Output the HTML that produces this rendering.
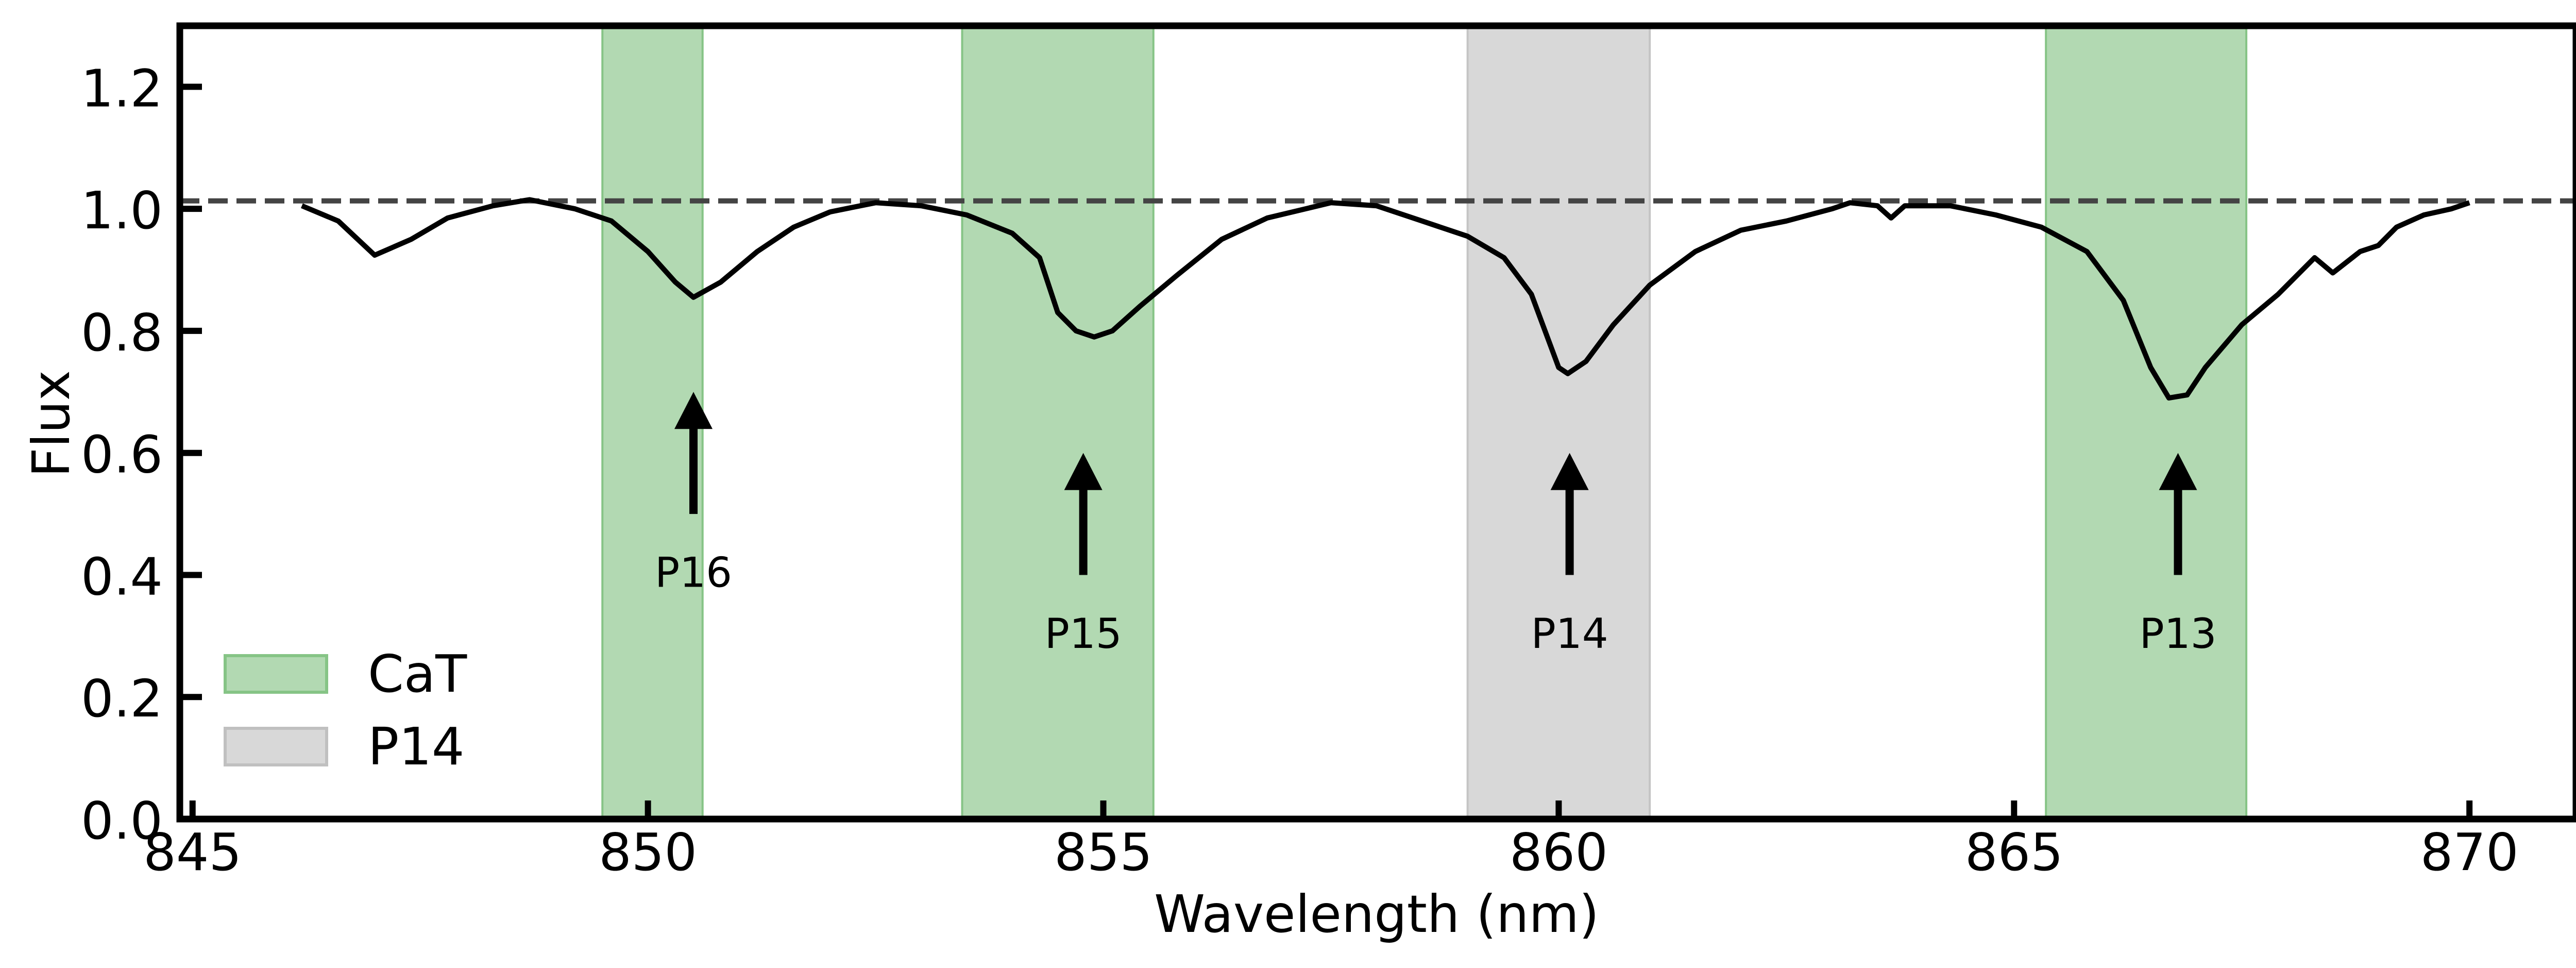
<!DOCTYPE html>
<html><head><meta charset="utf-8"><style>
html,body{margin:0;padding:0;background:#fff;}
svg{display:block;font-family:"DejaVu Sans","Liberation Sans",sans-serif;}
</style></head><body>
<svg id="chart" width="5049" height="1878" viewBox="0 0 5049 1878" xmlns="http://www.w3.org/2000/svg">
<g id="bands"></g>
<line id="refline" stroke="#444" stroke-width="10" stroke-dasharray="38,17"/>
<path id="spec" fill="none" stroke="#000" stroke-width="10" stroke-linejoin="round"/>
<g id="arrows"></g>
<g id="axes"></g>
<g>
<rect x="437" y="1272" width="197" height="71" fill="#b2d9b2" stroke="#86c486" stroke-width="6"/>
<text x="714" y="1342" font-size="100">CaT</text>
<rect x="437" y="1413" width="197" height="71" fill="#d8d8d8" stroke="#c0c0c0" stroke-width="6"/>
<text x="714" y="1483" font-size="100">P14</text>
</g>
<text x="2672" y="1808" font-size="100" text-anchor="middle">Wavelength (nm)</text>
<text x="0" y="0" font-size="100" text-anchor="middle" transform="translate(134,822) rotate(-90)">Flux</text>
</svg>
<script>
const wavelengths=[846.2,846.6,847.0,847.4,847.8,848.3,848.7,849.2,849.6,850.0,850.3,850.5,850.8,851.2,851.6,852.0,852.5,853.0,853.5,854.0,854.3,854.5,854.7,854.9,855.1,855.4,855.8,856.3,856.8,857.5,858.0,858.5,859.0,859.4,859.7,860.0,860.1,860.3,860.6,861.0,861.5,862.0,862.5,863.0,863.2,863.5,863.65,863.8,864.3,864.8,865.3,865.8,866.2,866.5,866.7,866.9,867.1,867.5,867.9,868.3,868.5,868.8,869.0,869.2,869.5,869.8,870.0];
const fluxValues=[1.005,0.98,0.924,0.95,0.985,1.005,1.015,1.0,0.98,0.93,0.88,0.855,0.88,0.93,0.97,0.995,1.01,1.005,0.99,0.96,0.92,0.83,0.80,0.79,0.80,0.84,0.89,0.95,0.985,1.01,1.005,0.98,0.955,0.92,0.86,0.74,0.73,0.75,0.81,0.875,0.93,0.965,0.98,1.0,1.01,1.005,0.985,1.005,1.005,0.99,0.97,0.93,0.85,0.74,0.69,0.695,0.74,0.81,0.86,0.92,0.895,0.93,0.94,0.97,0.99,1.0,1.01];
const bandStarts=[849.5,853.45,859.0,865.35];
const bandEnds=[850.6,855.55,861.0,867.55];
const bandKinds=["cat","cat","p14","cat"];
const lineNames=["P16","P15","P14","P13"];
const lineWaves=[850.5,854.78,860.12,866.8];
const arrowTails=[0.5,0.4,0.4,0.4];
const arrowTips=[0.7,0.6,0.6,0.6];
const labelFlux=[0.405,0.305,0.305,0.305];
const refFlux=1.013;
const xTicks=[845,850,855,860,865,870];
const yTicks=[0,0.2,0.4,0.6,0.8,1.0,1.2];
const xMin=844.86,xMax=871.17,yMin=0,yMax=1.3;
const L=349,R=5000,T=50,B=1589;
const NS="http://www.w3.org/2000/svg";
function xs(v){return L+(v-xMin)/(xMax-xMin)*(R-L);}
function ys(v){return B-(v-yMin)/(yMax-yMin)*(B-T);}
function mk(tag,attrs,parent){const e=document.createElementNS(NS,tag);for(const k in attrs)e.setAttribute(k,attrs[k]);parent.appendChild(e);return e;}
const bands=document.getElementById('bands');
for(let i=0;i<bandStarts.length;i++){
  const cat=bandKinds[i]==="cat";
  const r=mk('rect',{x:xs(bandStarts[i]),y:T,width:xs(bandEnds[i])-xs(bandStarts[i]),height:B-T,fill:cat?'#b2d9b2':'#d8d8d8',stroke:cat?'#86c486':'#c4c4c4','stroke-width':4},bands);
  
  
}
const rl=document.getElementById('refline');
rl.setAttribute('x1',L);rl.setAttribute('x2',R);rl.setAttribute('y1',ys(refFlux));rl.setAttribute('y2',ys(refFlux));
let d='';
for(let i=0;i<wavelengths.length;i++){d+=(i?'L':'M')+xs(wavelengths[i]).toFixed(1)+','+ys(fluxValues[i]).toFixed(1);}
document.getElementById('spec').setAttribute('d',d);
const ag=document.getElementById('arrows');
for(let i=0;i<lineNames.length;i++){
  const x=xs(lineWaves[i]),tip=ys(arrowTips[i]),tail=ys(arrowTails[i]);
  const s=mk('line',{x1:x,x2:x,y1:tail,y2:tip+70,stroke:'#000','stroke-width':16},ag);
  
  
  const h=mk('polygon',{points:`${x},${tip} ${x-37},${tip+72} ${x+37},${tip+72}`,fill:'#000'},ag);
  
  
  const t=mk('text',{x:x,y:ys(labelFlux[i])+29,'font-size':80,'text-anchor':'middle'},ag);
  t.textContent=lineNames[i];
  
  
}
const ax=document.getElementById('axes');
for(const v of xTicks){
  const tk=mk('line',{x1:xs(v),x2:xs(v),y1:B,y2:B-36,stroke:'#000','stroke-width':12},ax);
  
  
  const t=mk('text',{x:xs(v),y:1688,'font-size':100,'text-anchor':'middle'},ax);
  t.textContent=String(v);
  
  
}
for(const v of yTicks){
  const tk=mk('line',{x1:L,x2:L+43,y1:ys(v),y2:ys(v),stroke:'#000','stroke-width':12},ax);
  
  
  const t=mk('text',{x:316,y:ys(v)+38,'font-size':100,'text-anchor':'end'},ax);
  t.textContent=v.toFixed(1);
  
  
}
const fr=mk('rect',{x:L,y:T,width:R-L,height:B-T,fill:'none',stroke:'#000','stroke-width':13},ax);


</script>
</body></html>
